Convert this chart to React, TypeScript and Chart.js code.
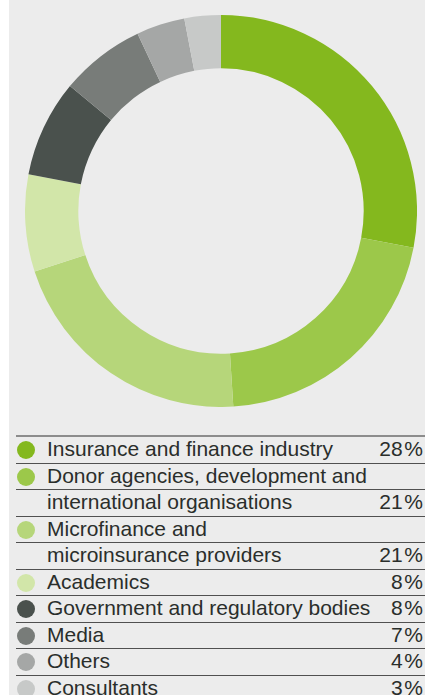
import React, { useEffect, useRef } from "react";
import { Chart, registerables } from "chart.js";

Chart.register(...registerables);

const categories = [
  "Insurance and finance industry",
  "Donor agencies, development and\ninternational organisations",
  "Microfinance and\nmicroinsurance providers",
  "Academics",
  "Government and regulatory bodies",
  "Media",
  "Others",
  "Consultants",
];
const shares = [28, 21, 21, 8, 8, 7, 4, 3];
const colors = [
  "#84b81e",
  "#9cc84a",
  "#b6d67a",
  "#d2e6a9",
  "#4a514d",
  "#787c79",
  "#a5a7a6",
  "#c7c9c8",
];

export default function App() {
  const ref = useRef<HTMLCanvasElement>(null);

  useEffect(() => {
    if (!ref.current) return;
    const chart = new Chart(ref.current, {
      type: "doughnut",
      data: {
        labels: categories.map((c) => c.replace("\n", " ")),
        datasets: [
          {
            data: shares,
            backgroundColor: colors,
            borderWidth: 0,
          },
        ],
      },
      options: {
        responsive: false,
        animation: false,
        cutout: "72.8%",
        layout: { padding: 0 },
        plugins: {
          legend: { display: false },
          tooltip: { enabled: false },
        },
      },
    });
    return () => chart.destroy();
  }, []);

  const rows: { color: string | null; text: string; pct: string | null }[] = [];
  categories.forEach((c, i) => {
    const lines = c.split("\n");
    lines.forEach((ln, j) => {
      rows.push({
        color: j === 0 ? colors[i] : null,
        text: ln,
        pct: j === lines.length - 1 ? `${shares[i]}\u200A%` : null,
      });
    });
  });

  return (
    <div
      style={{
        position: "absolute",
        left: 0,
        top: 0,
        width: 425,
        height: 695,
        background: "#ffffff",
        overflow: "hidden",
      }}
    >
      <div
        style={{
          position: "absolute",
          left: 9,
          top: 0,
          width: 416,
          height: 695,
          background: "#ececec",
        }}
      >
        <canvas
          ref={ref}
          width={392}
          height={392}
          style={{ position: "absolute", left: 16, top: 15, width: 392, height: 392 }}
        />
        <div
          style={{
            position: "absolute",
            left: 7,
            top: 435,
            width: 409,
            borderTop: "2px solid #8c8c8c",
            fontFamily: "'Liberation Sans', Arial, sans-serif",
            fontSize: 21,
            color: "#2a2e2b",
          }}
        >
          {rows.map((r, k) => (
            <div
              key={k}
              style={{
                position: "relative",
                height: 25.5,
                lineHeight: "25.5px",
                borderBottom: "1px solid #505050",
              }}
            >
              {r.color && (
                <span
                  style={{
                    position: "absolute",
                    left: 1,
                    top: 4,
                    width: 18,
                    height: 18,
                    borderRadius: "50%",
                    background: r.color,
                  }}
                />
              )}
              <span style={{ position: "absolute", left: 31, top: -1, whiteSpace: "nowrap" }}>
                {r.text}
              </span>
              {r.pct && (
                <span style={{ position: "absolute", right: 2, top: -1, whiteSpace: "nowrap" }}>
                  {r.pct}
                </span>
              )}
            </div>
          ))}
        </div>
      </div>
    </div>
  );
}
